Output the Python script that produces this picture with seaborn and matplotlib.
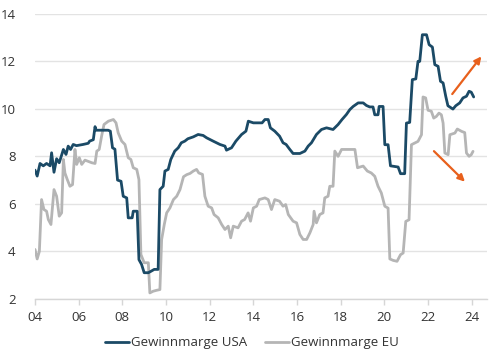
import matplotlib
matplotlib.use("Agg")
import matplotlib.pyplot as plt
import seaborn as sns

# profit margin, USA (decimal year, percent)
usa_t = [2004.0, 2004.1, 2004.23, 2004.38, 2004.53, 2004.69, 2004.76, 2004.87, 2004.99, 2005.11,
         2005.3, 2005.42, 2005.52, 2005.63, 2005.75, 2005.9, 2006.2, 2006.44, 2006.5, 2006.67,
         2006.75, 2006.8, 2007.35, 2007.45, 2007.55, 2007.66, 2007.78, 2007.94, 2008.04, 2008.2,
         2008.27, 2008.45, 2008.5, 2008.68, 2008.76, 2008.88, 2009.0, 2009.19, 2009.31, 2009.46,
         2009.64, 2009.72, 2009.87, 2009.95, 2010.1, 2010.22, 2010.4, 2010.56, 2010.7, 2010.86,
         2011.0, 2011.25, 2011.47, 2011.7, 2011.86, 2012.16, 2012.47, 2012.7, 2012.77, 2013.0,
         2013.2, 2013.46, 2013.66, 2013.77, 2014.0, 2014.4, 2014.53, 2014.68, 2014.78, 2014.98,
         2015.2, 2015.36, 2015.5, 2015.67, 2015.82, 2016.13, 2016.36, 2016.51, 2016.66, 2016.89,
         2017.12, 2017.35, 2017.65, 2017.88, 2018.06, 2018.26, 2018.42, 2018.57, 2018.8, 2019.03,
         2019.18, 2019.33, 2019.48, 2019.56, 2019.71, 2019.76, 2019.94, 2020.02, 2020.17, 2020.28,
         2020.63, 2020.74, 2020.93, 2021.01, 2021.16, 2021.28, 2021.44, 2021.54, 2021.62, 2021.74,
         2021.93, 2022.05, 2022.2, 2022.31, 2022.46, 2022.57, 2022.69, 2022.81, 2022.91, 2023.14,
         2023.27, 2023.45, 2023.6, 2023.76, 2023.88, 2023.98, 2024.09]
usa_v = [7.42, 7.17, 7.7, 7.6, 7.7, 7.6, 8.15, 7.33, 7.9, 7.73,
         8.29, 8.08, 8.43, 8.29, 8.5, 8.45, 8.5, 8.55, 8.64, 8.7,
         9.25, 9.1, 9.1, 9.06, 8.36, 8.3, 7.0, 6.95, 6.32, 6.25,
         5.41, 5.41, 5.69, 5.69, 3.65, 3.45, 3.1, 3.1, 3.16, 3.24,
         3.24, 6.6, 6.74, 7.38, 7.45, 7.87, 8.22, 8.36, 8.57, 8.64,
         8.74, 8.82, 8.92, 8.88, 8.78, 8.64, 8.5, 8.43, 8.26, 8.36,
         8.64, 8.92, 9.06, 9.48, 9.41, 9.41, 9.55, 9.55, 9.2, 9.06,
         8.85, 8.57, 8.5, 8.29, 8.12, 8.12, 8.22, 8.43, 8.57, 8.92,
         9.13, 9.2, 9.13, 9.34, 9.55, 9.76, 9.97, 10.1, 10.25, 10.25,
         10.14, 10.08, 10.08, 9.75, 9.75, 10.1, 10.1, 8.49, 8.49, 7.6,
         7.55, 7.27, 7.27, 9.4, 9.43, 11.23, 11.26, 12.0, 12.0, 13.12,
         13.12, 12.7, 12.6, 11.86, 11.79, 11.16, 11.09, 10.53, 10.13, 9.99,
         10.13, 10.25, 10.46, 10.53, 10.74, 10.7, 10.5]

# profit margin, EU (decimal year, percent)
eu_t = [2004.0, 2004.1, 2004.2, 2004.3, 2004.41, 2004.53, 2004.61, 2004.73, 2004.87, 2004.99,
        2005.11, 2005.22, 2005.3, 2005.37, 2005.48, 2005.6, 2005.72, 2005.83, 2005.91, 2006.03,
        2006.14, 2006.29, 2006.6, 2006.75, 2006.83, 2006.94, 2007.05, 2007.16, 2007.36, 2007.59,
        2007.71, 2007.81, 2007.97, 2008.12, 2008.27, 2008.39, 2008.5, 2008.66, 2008.76, 2008.85,
        2009.0, 2009.19, 2009.26, 2009.41, 2009.57, 2009.72, 2009.8, 2009.92, 2010.03, 2010.18,
        2010.34, 2010.49, 2010.64, 2010.8, 2010.95, 2011.1, 2011.25, 2011.4, 2011.5, 2011.67,
        2011.78, 2011.93, 2012.09, 2012.2, 2012.39, 2012.55, 2012.7, 2012.85, 2012.96, 2013.08,
        2013.3, 2013.46, 2013.6, 2013.76, 2013.87, 2014.0, 2014.15, 2014.27, 2014.53, 2014.68,
        2014.83, 2014.98, 2015.2, 2015.36, 2015.48, 2015.6, 2015.82, 2015.98, 2016.13, 2016.28,
        2016.44, 2016.59, 2016.74, 2016.78, 2016.89, 2017.04, 2017.19, 2017.27, 2017.42, 2017.5,
        2017.65, 2017.73, 2017.88, 2018.04, 2018.65, 2018.77, 2019.03, 2019.22, 2019.4, 2019.56,
        2019.71, 2019.86, 2020.02, 2020.17, 2020.25, 2020.4, 2020.58, 2020.74, 2020.86, 2020.98,
        2021.13, 2021.24, 2021.39, 2021.54, 2021.7, 2021.77, 2021.89, 2022.0, 2022.15, 2022.26,
        2022.38, 2022.5, 2022.61, 2022.69, 2022.77, 2022.92, 2023.0, 2023.23, 2023.34, 2023.54,
        2023.68, 2023.76, 2023.88, 2023.98, 2024.06]
eu_v = [4.08, 3.68, 4.0, 6.18, 5.76, 5.69, 5.34, 5.13, 6.6, 6.32,
        5.48, 5.62, 7.87, 7.3, 7.02, 6.74, 6.81, 8.29, 7.66, 7.94,
        7.66, 7.84, 7.73, 7.7, 8.22, 8.29, 8.85, 9.34, 9.48, 9.55,
        9.41, 8.99, 8.64, 8.5, 7.94, 7.87, 7.52, 7.45, 7.02, 3.87,
        3.52, 3.52, 2.25, 2.32, 2.36, 2.39, 4.5, 5.13, 5.62, 5.83,
        6.18, 6.32, 6.6, 7.14, 7.23, 7.28, 7.38, 7.45, 7.3, 7.24,
        6.32, 5.9, 5.83, 5.55, 5.41, 5.13, 4.92, 5.06, 4.57, 5.06,
        4.99, 5.27, 5.34, 5.62, 5.27, 5.83, 5.9, 6.18, 6.25, 6.18,
        5.76, 6.18, 6.11, 5.9, 5.97, 5.55, 5.27, 5.2, 4.71, 4.5,
        4.5, 4.78, 5.13, 5.69, 5.2, 5.55, 5.62, 6.25, 6.32, 6.74,
        6.74, 8.22, 8.0, 8.29, 8.29, 7.52, 7.59, 7.38, 7.3, 7.16,
        6.74, 6.46, 5.9, 5.82, 3.68, 3.62, 3.58, 3.86, 3.93, 5.26,
        5.33, 8.49, 8.56, 8.63, 8.91, 10.5, 10.46, 9.94, 9.9, 9.61,
        9.68, 9.82, 9.75, 9.4, 8.14, 8.07, 8.91, 8.98, 9.15, 9.05,
        9.0, 8.14, 8.0, 8.07, 8.21]

year_ticks = [2004, 2006, 2008, 2010, 2012, 2014, 2016, 2018, 2020, 2022, 2024]
year_labels = ["04", "06", "08", "10", "12", "14", "16", "18", "20", "22", "24"]
y_ticks = [2, 4, 6, 8, 10, 12, 14]

sns.set_theme(style="white")
plt.rcParams["font.family"] = ["Open Sans", "DejaVu Sans"]

fig = plt.figure(figsize=(5, 3.64), dpi=100)
ax = fig.add_axes([0.07, 0.179, 0.904, 0.783])

sns.lineplot(x=eu_t, y=eu_v, ax=ax, color="#b5b5b5", linewidth=2,
             label="Gewinnmarge EU", estimator=None, sort=False, zorder=2)
sns.lineplot(x=usa_t, y=usa_v, ax=ax, color="#1b4a66", linewidth=2,
             label="Gewinnmarge USA", estimator=None, sort=False, zorder=3)

# trend arrows
arrow_style = dict(arrowstyle="-|>", color="#e8601c", lw=1.6, mutation_scale=10)
ax.annotate("", xy=(2024.52, 12.3), xytext=(2023.03, 10.53), arrowprops=arrow_style)
ax.annotate("", xy=(2023.78, 6.85), xytext=(2022.18, 8.3), arrowprops=arrow_style)

ax.set_xlim(2004, 2024.7)
ax.set_ylim(2, 14)
ax.set_xticks(year_ticks)
ax.set_xticklabels(year_labels)
ax.set_yticks(y_ticks)
ax.set_xlabel("")
ax.set_ylabel("")

ax.grid(axis="y", color="#e3e3e3", linewidth=1)
ax.grid(axis="x", visible=False)
for s in ["top", "right", "left"]:
    ax.spines[s].set_visible(False)
ax.spines["bottom"].set_color("#d6d6d6")
ax.spines["bottom"].set_linewidth(1)
ax.tick_params(axis="x", bottom=True, length=4, width=1, color="#d6d6d6",
               labelsize=9.5, labelcolor="#333333", pad=5)
ax.tick_params(axis="y", left=False, labelsize=9.5, labelcolor="#333333", pad=8)

# legend order: USA first
handles, labels = ax.get_legend_handles_labels()
order = [labels.index("Gewinnmarge USA"), labels.index("Gewinnmarge EU")]
ax.legend([handles[i] for i in order], [labels[i] for i in order],
          loc="center", bbox_to_anchor=(0.504, 0.058), bbox_transform=fig.transFigure,
          ncol=2, frameon=False, fontsize=9.5, handlelength=1.8, handletextpad=0.15,
          columnspacing=1.4, labelcolor="#333333")

fig.savefig("out.png", dpi=100)
